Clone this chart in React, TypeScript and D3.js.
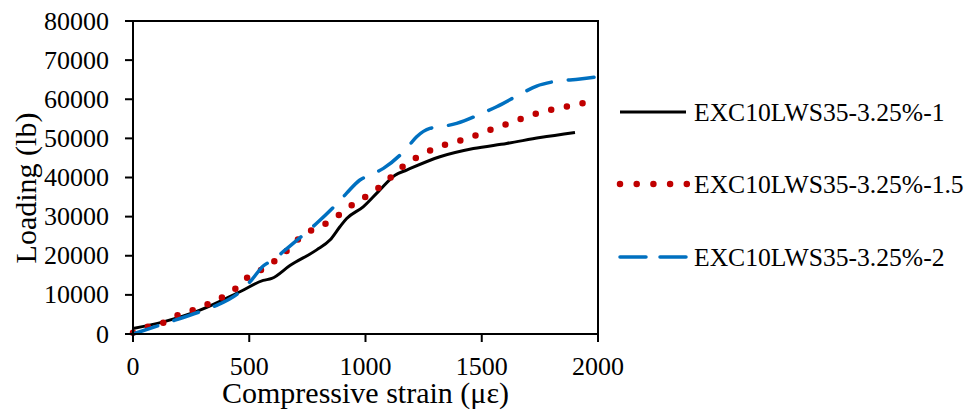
import React from "react";
import * as d3 from "d3";

const xTicks = [0, 500, 1000, 1500, 2000];
const yTicks = [0, 10000, 20000, 30000, 40000, 50000, 60000, 70000, 80000];

const seriesNames = ["EXC10LWS35-3.25%-1", "EXC10LWS35-3.25%-1.5", "EXC10LWS35-3.25%-2"];

const s1Strain = [0, 130, 288, 460, 560, 597, 675, 790, 847, 890, 919, 990, 1055, 1127, 1177, 1320, 1464, 1607, 1751, 1901];
const s1Load = [1400, 3100, 6100, 10800, 13700, 14200, 17500, 21500, 24000, 27400, 29500, 32500, 36400, 40600, 41900, 45300, 47400, 48700, 50200, 51500];

const s2Strain = [0, 66, 130, 195, 259, 324, 388, 446, 496, 556, 615, 668, 718, 776, 840, 895, 952, 1012, 1070, 1120, 1174, 1234, 1299, 1363, 1431, 1497, 1561, 1629, 1695, 1760, 1829, 1898, 1966];
const s2Load = [300, 1870, 2900, 4860, 6130, 7670, 9540, 11840, 14650, 16530, 18910, 21640, 24620, 26750, 28540, 30840, 33390, 35520, 38000, 40630, 43440, 45570, 47450, 48730, 49830, 51290, 52720, 54100, 55530, 56810, 57680, 58520, 59370];

const s3Strain = [0, 130, 288, 353, 460, 510, 560, 603, 646, 732, 790, 876, 919, 976, 1019, 1077, 1177, 1220, 1277, 1327, 1392, 1507, 1564, 1672, 1736, 1808, 1923, 2000];
const s3Load = [0, 2550, 5700, 7160, 10800, 13800, 17380, 18910, 21040, 25300, 28290, 33220, 36000, 39360, 40630, 42330, 47450, 50430, 52560, 52990, 53840, 56560, 58090, 61500, 63380, 64480, 65170, 65760];

const W = 980, H = 413;
const L = 133, R = 598, T = 21, B = 334;
const FONT = "'Liberation Serif', 'Times New Roman', serif";

export default function App() {
  const x = d3.scaleLinear().domain([0, 2000]).range([L, R]);
  const y = d3.scaleLinear().domain([0, 80000]).range([B, T]);
  const line = d3.line<[number, number]>().x(d => x(d[0])).y(d => y(d[1])).curve(d3.curveMonotoneX);
  const zip = (a: number[], b: number[]) => a.map((v, i) => [v, b[i]] as [number, number]);

  const series = [
    { name: seriesNames[0], data: zip(s1Strain, s1Load), color: "#000000", width: 3, dash: undefined as string | undefined, cap: "butt" },
    { name: seriesNames[1], data: zip(s2Strain, s2Load), color: "#C00000", width: 6.5, dash: "0 16", cap: "round" },
    { name: seriesNames[2], data: zip(s3Strain, s3Load), color: "#0070C0", width: 3.5, dash: "26 17", cap: "round" },
  ];
  const legendY = [112, 184, 257];

  return (
    <svg width={W} height={H} style={{ position: "absolute", left: 0, top: 0, background: "#fff" }} fontFamily={FONT}>
      <rect x={0} y={0} width={W} height={H} fill="#fff" />
      {series.map((s, i) => (
        <path key={i} d={line(s.data) || ""} fill="none" stroke={s.color} strokeWidth={s.width}
          strokeDasharray={s.dash} strokeLinecap={s.cap as any} strokeLinejoin="round" />
      ))}
      <rect x={L} y={T} width={R - L} height={B - T} fill="none" stroke="#000" strokeWidth={2} />
      {xTicks.map(t => (
        <g key={t}>
          <line x1={x(t)} x2={x(t)} y1={B} y2={B + 8} stroke="#000" strokeWidth={2} />
          <text x={x(t)} y={375} fontSize={26} textAnchor="middle" fill="#000">{t}</text>
        </g>
      ))}
      {yTicks.map(t => (
        <g key={t}>
          <line x1={L - 8} x2={L} y1={y(t)} y2={y(t)} stroke="#000" strokeWidth={2} />
          <text x={109} y={y(t)} fontSize={26} textAnchor="end" dominantBaseline="central" fill="#000">{t}</text>
        </g>
      ))}
      <text x={(L + R) / 2} y={403} fontSize={30} textAnchor="middle" fill="#000">Compressive strain (με)</text>
      <text transform={`translate(36,188) rotate(-90)`} fontSize={30} textAnchor="middle" fill="#000">Loading (lb)</text>
      {series.map((s, i) => (
        <g key={i}>
          <line x1={620} x2={i === 1 ? 687 : 686} y1={legendY[i]} y2={legendY[i]} stroke={s.color}
            strokeWidth={s.width} strokeDasharray={i === 1 ? "0 16.7" : i === 2 ? "26 14" : undefined}
            strokeLinecap={s.cap as any} />
          <text x={694} y={legendY[i]} fontSize={25.6} dominantBaseline="central" fill="#000">{s.name}</text>
        </g>
      ))}
    </svg>
  );
}
